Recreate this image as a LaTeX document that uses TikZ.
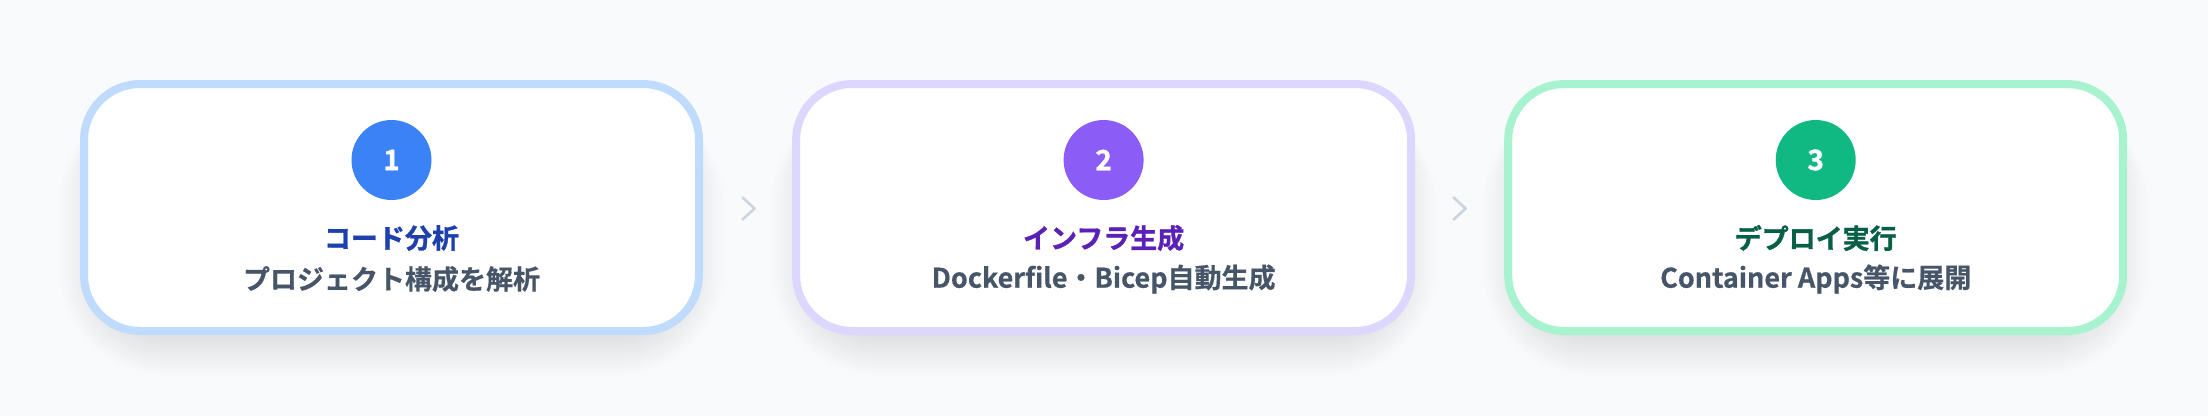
\documentclass[tikz,border=0pt]{standalone}
\usepackage{fontspec}
\setmainfont{Noto Sans CJK JP}
\newfontfamily\jpbold{Noto Sans CJK JP}[UprightFont={* Bold}, FakeBold=1.2]
\newfontfamily\jpsemi{Noto Sans CJK JP}[UprightFont={* Bold}, FakeBold=0.5]
\definecolor{bg}{HTML}{F8FAFC}
\definecolor{bluebd}{HTML}{BFDBFE}
\definecolor{bluec}{HTML}{3B82F6}
\definecolor{bluet}{HTML}{1E40AF}
\definecolor{violbd}{HTML}{DDD6FE}
\definecolor{violc}{HTML}{8B5CF6}
\definecolor{violt}{HTML}{5B21B6}
\definecolor{grnbd}{HTML}{A7F3D0}
\definecolor{grnc}{HTML}{10B981}
\definecolor{grnt}{HTML}{065F46}
\definecolor{subt}{HTML}{475569}
\definecolor{chev}{HTML}{CBD5E1}
\tikzset{
  card/.style={draw=#1, line width=8pt, fill=white, rounded corners=56pt,
    minimum width=615pt, minimum height=247pt, inner sep=0pt},
  badge/.style={circle, fill=#1, minimum size=80pt, inner sep=0pt,
    text=white, font=\jpbold\fontsize{28}{32}\selectfont},
  ttl/.style={text=#1, font=\jpbold\fontsize{27}{32}\selectfont, inner sep=0pt},
  sub/.style={text=subt, font=\jpsemi\fontsize{27}{32}\selectfont, inner sep=0pt},
  chevron/.style={draw=chev, line width=2.6pt, line cap=round, line join=round},
}
\begin{document}
\begin{tikzpicture}[x=1pt,y=-1pt]
\useasboundingbox (0,0) rectangle (2208,416);
\fill[bg] (0,0) rectangle (2208,416);
% shadows
\foreach \cx in {391.5,1103.6,1815.7}{
  \foreach \i in {0,2,...,48}{
    \fill[black,opacity=0.005,rounded corners={60+\i}]
      (\cx-290-\i*0.9,112-\i*0.3) rectangle (\cx+290+\i*0.9,337+\i*0.8);
  }
  \foreach \i in {0,2,...,12}{
    \fill[black,opacity=0.008]
      (\cx,164) circle ({40+\i*0.6});
  }
}
% cards
\node[card=bluebd] (c1) at (391.5,207.5) {};
\node[card=violbd] (c2) at (1103.6,207.5) {};
\node[card=grnbd] (c3) at (1815.7,207.5) {};
% badges
\node[badge=bluec] (b1) at (391.5,160) {1};
\node[badge=violc] (b2) at (1103.6,160) {2};
\node[badge=grnc] (b3) at (1815.7,160) {3};
% titles
\node[ttl=bluet] (t1) at (391.5,238) {コード分析};
\node[ttl=violt] (t2) at (1103.6,238) {インフラ生成};
\node[ttl=grnt] (t3) at (1815.7,238) {デプロイ実行};
% subtitles
\node[sub] (s1) at (391.5,279) {プロジェクト構成を解析};
\node[sub] (s2) at (1103.6,279) {Dockerfile・Bicep自動生成};
\node[sub] (s3) at (1815.7,279) {Container Apps等に展開};
% chevrons
\coordinate (k1) at (748.5,208.5);
\coordinate (k2) at (1459.6,208.5);
\draw[chevron] ([shift={(-6,-11)}]k1) -- ([shift={(6,0)}]k1) -- ([shift={(-6,11)}]k1);
\draw[chevron] ([shift={(-6,-11)}]k2) -- ([shift={(6,0)}]k2) -- ([shift={(-6,11)}]k2);
\end{tikzpicture}
\end{document}
